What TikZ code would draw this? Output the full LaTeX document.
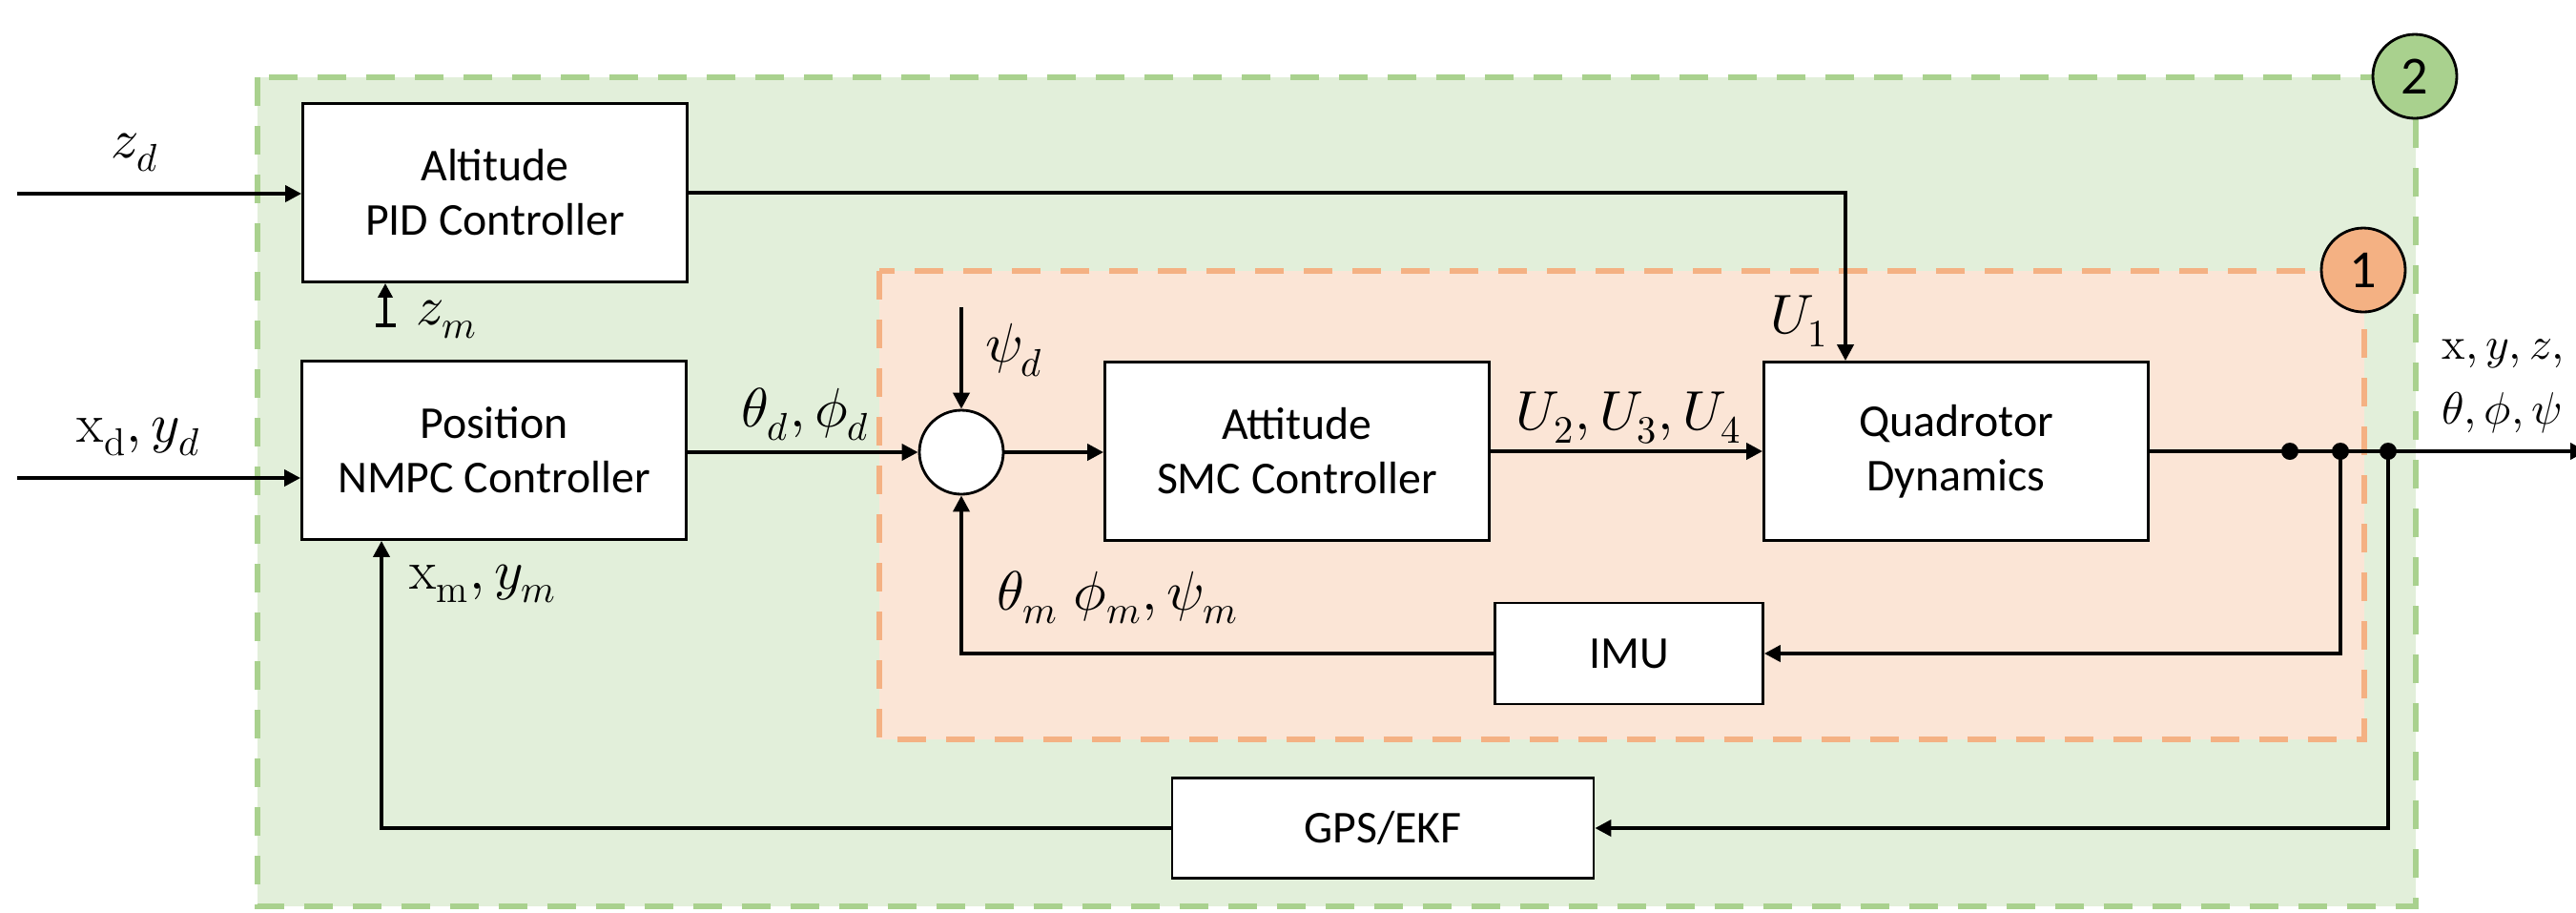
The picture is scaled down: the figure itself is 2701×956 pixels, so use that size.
\documentclass[tikz,border=0pt]{standalone}
\usepackage{fontspec}
\usepackage{unicode-math}
\setmathfont{Latin Modern Math}
\newfontfamily\calib{Carlito}
\usetikzlibrary{arrows.meta}
\definecolor{grnfill}{HTML}{E2EFDA}
\definecolor{grnline}{HTML}{A9D18E}
\definecolor{orgfill}{HTML}{FBE5D6}
\definecolor{orgline}{HTML}{F4B183}

\begin{document}
\begin{tikzpicture}[x=0.1mm,y=-0.1mm,
	  blk/.style={draw=black,line width=0.8pt,fill=white,minimum width=40.3mm,minimum height=18.7mm,align=center,inner sep=0pt,font=\calib\fontsize{13.6}{16.2}\selectfont},
	  sig/.style={line width=1.1pt,-{Triangle[length=1.7mm,width=1.7mm]}},
	  lbl/.style={inner sep=0pt,font=\fontsize{16.5}{16.5}\selectfont},
	  tag/.style={circle,draw=black,line width=0.8pt,minimum width=8.8mm,inner sep=0pt,font=\calib\fontsize{16}{18}\selectfont},
	  zone/.style={line width=1.7pt,dash pattern=on 3mm off 2.1mm}]
	  \useasboundingbox (0,0) rectangle (2701,956);
	  \clip (0,0) rectangle (2701,956);

	  \draw[zone,draw=grnline,fill=grnfill] (270,81) rectangle (2533,950);
	  \draw[zone,draw=orgline,fill=orgfill] (922,284) rectangle (2479,775);
	  \node[tag,fill=grnline] (zone2) at (2532,80) {2};
	  \node[tag,fill=orgline] (zone1) at (2478,283) {1};


	  \node[blk] (alt) at (519,202) {Altitude\\PID Controller};
	  \node[blk] (pos) at (518,472) {Position\\NMPC Controller};
	  \node[blk] (att) at (1360,473) {Attitude\\SMC Controller};
	  \node[blk] (quad) at (2051,473) {Quadrotor\\Dynamics};
	  \node[blk,minimum width=28.1mm,minimum height=10.6mm] (imu) at (1708,685) {IMU};
	  \node[blk,minimum width=44.2mm,minimum height=10.5mm] (gps) at (1450,868) {GPS/EKF};
	  \node[circle,draw=black,line width=0.8pt,fill=white,minimum size=8.8mm,inner sep=0pt] (sum) at (1008,474) {};


	  \coordinate (zdin) at (18,203);
	  \coordinate (xyin) at (18,501);
	  \coordinate (psin) at (1008,322);
	  \coordinate (zmin) at (404,343);
	  \coordinate (out) at (2712,473);
	  \coordinate (dot1) at (2401,473);
	  \coordinate (dot2) at (2454,473);
	  \coordinate (dot3) at (2504,473);

	  \draw[sig] (zdin) -- (zdin -| alt.west);
	  \draw[sig] (xyin) -- (xyin -| pos.west);
	  \draw[sig] (pos.east |- sum.west) -- (sum.west);
	  \draw[sig] (psin) -- (sum.north);
	  \draw[sig] (sum.east) -- (sum.east -| att.west);
	  \draw[sig] (att.east) -- (quad.west);
	  \draw[sig] (alt.east) -| ([xshift=-11.6mm]quad.north);
	  \draw[sig] (quad.east) -- (out);
	  \draw[sig] (dot2) |- (imu.east);
	  \draw[sig] (imu.west) -| (sum.south);
	  \draw[sig] (dot3) |- (gps.east);
	  \draw[sig] (gps.west) -| ([xshift=-11.8mm]pos.south);
	  \draw[line width=1.1pt,{Bar[width=2.1mm]}-{Triangle[length=1.5mm,width=1.5mm]}] (zmin) -- (zmin |- alt.south);

	  \foreach \d in {dot1,dot2,dot3} \fill (\d) circle (0.9mm);


	  \node[lbl] (zd) at (142,160) {$z_d$};
	  \node[lbl] (xyd) at (146,458) {$\mathrm{x}_{\mathrm{d}}, y_d$};
	  \node[lbl] (zm) at (469,335) {$z_m$};
	  \node[lbl] (xym) at (507,612) {$\mathrm{x}_{\mathrm{m}}, y_m$};
	  \node[lbl] (angd) at (845,434) {$\theta_d, \phi_d$};
	  \node[lbl] (psid) at (1064,367) {$\psi_d$};
	  \node[lbl] (u1) at (1887,337) {$U_1$};
	  \node[lbl] (u234) at (1708,438) {$U_2, U_3, U_4$};
	  \node[lbl] (angm) at (1172,626) {$\theta_m\;\phi_m, \psi_m$};
	  \node[lbl,anchor=west,align=left,font=\fontsize{13.5}{16.5}\selectfont] (state) at (2560,405) {$\mathrm{x}, y, z,$\\[1mm]$\theta, \phi, \psi$};

\end{tikzpicture}
\end{document}
